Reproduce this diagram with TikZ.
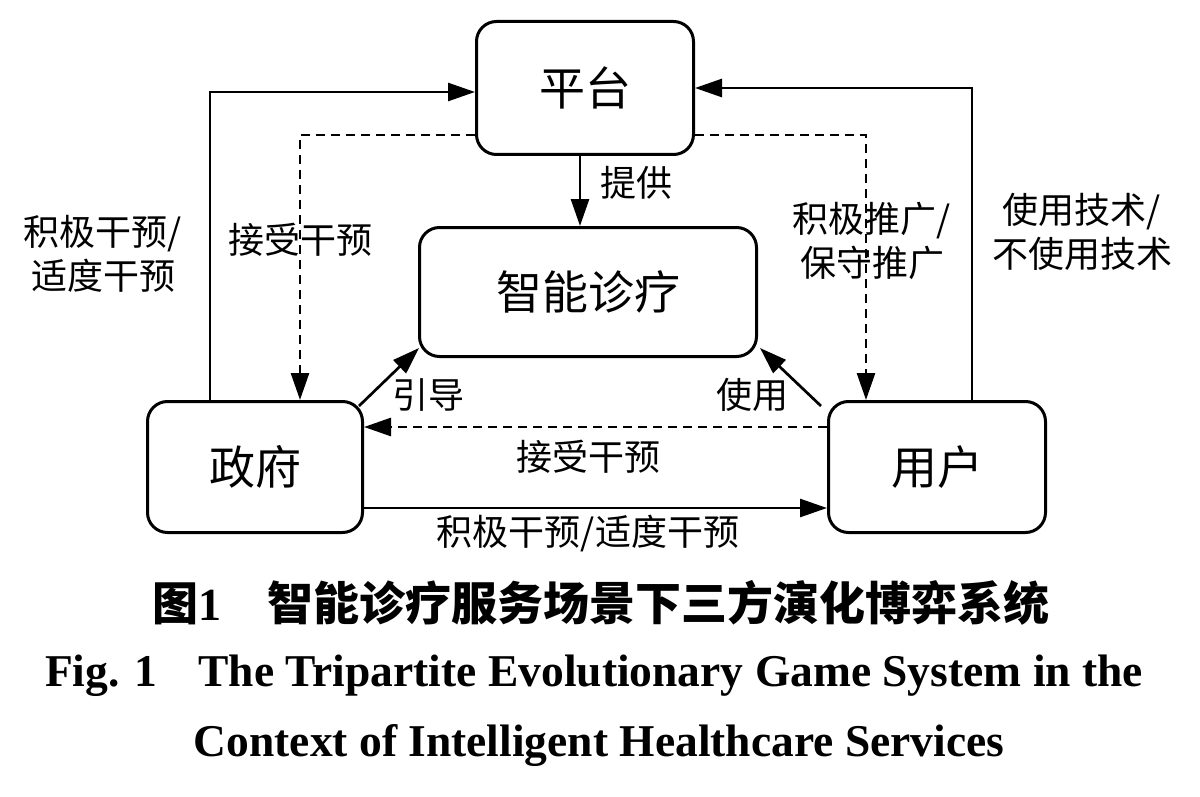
\documentclass[tikz,border=0pt]{standalone}
\usepackage{fontspec}
\setmainfont{Liberation Serif}
\newfontfamily\cjk{Noto Sans CJK SC}
\newfontfamily\capfont{Liberation Serif}
\usetikzlibrary{arrows.meta}
\begin{document}
\begin{tikzpicture}[x=1pt,y=-1pt,
  box/.style={draw,line width=3pt,rounded corners=20pt,inner sep=0pt,font=\cjk\fontsize{46}{50}\selectfont},
  lbl/.style={inner sep=0pt,font=\cjk\fontsize{36}{44}\selectfont,align=center},
  conn/.style={line width=2.7pt,-{Triangle[length=27pt,width=18pt]}},
  dconn/.style={conn,dash pattern=on 9pt off 6pt}]
\useasboundingbox (0,0) rectangle (1200,797);
\fill[white] (0,0) rectangle (1200,797);
\node[box,minimum width=217pt,minimum height=133pt] (pt) at (585,88) {平台};
\node[box,minimum width=337pt,minimum height=129pt] (zn) at (588,292) {智能诊疗};
\node[box,minimum width=215pt,minimum height=131pt] (gov) at (255,467) {政府};
\node[box,minimum width=217pt,minimum height=131pt] (usr) at (937,467) {用户};
% solid outer loops
\draw[conn] ([xshift=-45pt]gov.north) |- ([yshift=-4pt]pt.west);
\draw[conn] ([xshift=35pt]usr.north) |- (pt.east);
% dashed inner loops
\draw[dconn] ([yshift=-47pt]pt.west) -| ([xshift=45pt]gov.north);
\draw[dconn] ([yshift=-47pt]pt.east) -| ([xshift=-71pt]usr.north);
% provide
\draw[conn] ([xshift=-5pt]pt.south) -- ([xshift=-5pt]pt.south |- zn.north);
% guide / use
\draw[conn] ([xshift=-5pt,yshift=-6pt]gov.north east) -- ([xshift=1pt,yshift=10pt]zn.south west);
\draw[conn] ([xshift=-6pt,yshift=-6pt]usr.north west) -- ([xshift=2pt,yshift=10pt]zn.south east);
% horizontal
\draw[dconn] ([yshift=40pt]usr.west) -- ([yshift=40pt]gov.east);
\draw[conn] ([yshift=-41pt]gov.east) -- ([yshift=-41pt]usr.west);
% labels
\node[lbl] (l1) at (636,183) {提供};
\node[lbl] (l2) at (103,254) {积极干预/\\适度干预};
\node[lbl] (l3) at (300,240) {接受干预};
\node[lbl] (l4) at (872,241) {积极推广/\\保守推广};
\node[lbl] (l5) at (1082,232) {使用技术/\\不使用技术};
\node[lbl] (l6) at (428,395) {引导};
\node[lbl] (l7) at (752,395) {使用};
\node[lbl] (l8) at (588,457) {接受干预};
\node[lbl] (l9) at (588,534) {积极干预/适度干预};
% captions
\node[inner sep=0pt,font=\cjk\bfseries\fontsize{46}{50}\selectfont] (c1) at (601,603) {图\textrm{1}\hspace{1em}智能诊疗服务场景下三方演化博弈系统};
\node[inner sep=0pt,font=\capfont\bfseries\fontsize{45.5}{50}\selectfont] (c2) at (594,676) {Fig. 1\hspace{0.9em}The Tripartite Evolutionary Game System in the};
\node[inner sep=0pt,font=\capfont\bfseries\fontsize{45.5}{50}\selectfont] (c3) at (599,745) {Context of Intelligent Healthcare Services};
\end{tikzpicture}
\end{document}
